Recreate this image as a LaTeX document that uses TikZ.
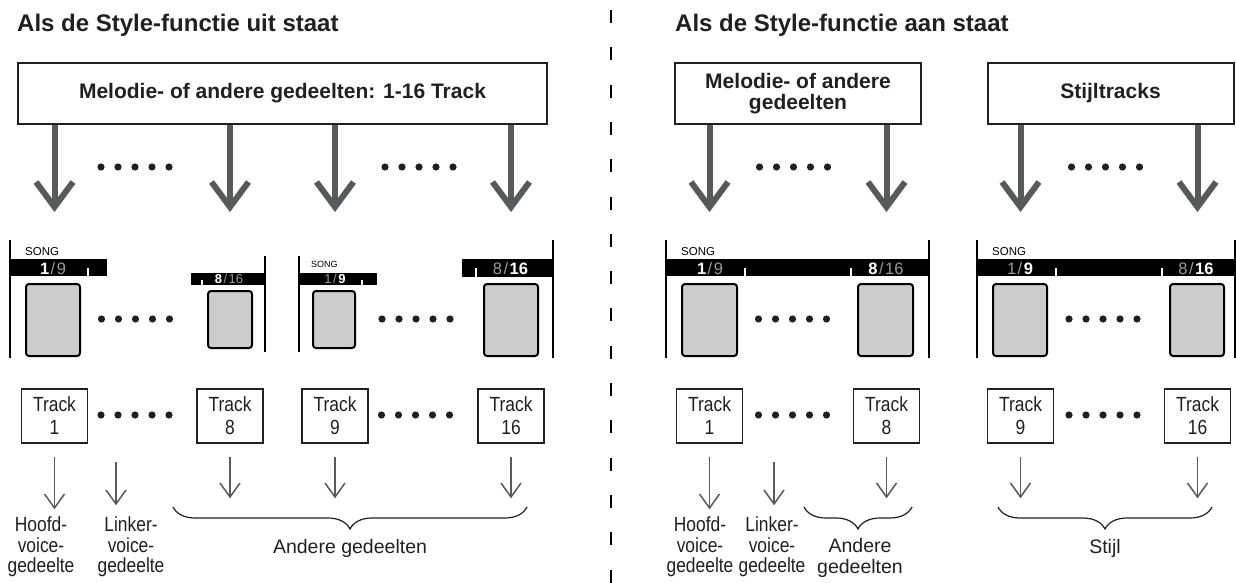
\documentclass[tikz,border=0pt]{standalone}
\usepackage{fontspec}
\setmainfont{Liberation Sans}
\newfontfamily\condfont[FakeStretch=0.85]{Liberation Sans}
\usetikzlibrary{decorations.pathreplacing,calc}
\definecolor{ink}{HTML}{231F20}
\definecolor{arrgray}{HTML}{58595B}
\definecolor{lcd}{HTML}{CCCCCC}
\definecolor{dim}{HTML}{9A9A9A}
\newcommand\hinum[1]{\textcolor{white}{\bfseries #1}}
\newcommand\lonum[1]{\textcolor{dim}{#1}}
\newcommand\slsh{\textcolor{dim}{\kern1.5pt/\kern1.5pt}}
\newcommand\bigarrow[2]{%
  \draw[bigshaft] (#1) -- (#2);
  \draw[bigshaft, line join=miter] ($(#2)+(-18.5,-25)$) -- (#2) -- ($(#2)+(18.5,-25)$);}
\newcommand\smallarrow[2]{%
  \draw[smallarr] (#1) -- (#2);
  \draw[smallarr] ($(#2)+(-10,-14)$) -- (#2) -- ($(#2)+(10,-14)$);}
\newcommand\dotrow[2]{\foreach \k in {-2,...,2}{\fill[ink] ({#1+\k*17},#2) circle[radius=3.6pt];}}
\tikzset{
  ttl/.style={inner sep=0pt, font=\fontsize{24}{24}\selectfont\bfseries, text=ink},
  topbox/.style={draw=ink, line width=2pt, minimum height=61pt, inner sep=0pt, align=center,
    font=\fontsize{21}{21}\selectfont\bfseries, text=ink},
  trackbox/.style={draw=ink, line width=1.3pt, minimum width=66pt, minimum height=54pt, inner sep=0pt,
    align=center, font=\condfont\fontsize{20.5}{23}\selectfont, text=ink},
  bigshaft/.style={draw=arrgray, line width=6pt},
  smallarr/.style={draw=arrgray, line width=1.5pt},
  lbl/.style={align=center, inner sep=0pt, font=\condfont\fontsize{20.5}{20.5}\selectfont, text=ink},
  brlbl/.style={align=center, inner sep=0pt, font=\fontsize{19.5}{21}\selectfont, text=ink},
  brc/.style={draw=ink, line width=1.2pt, decorate, decoration={brace, mirror, amplitude=22pt}},
  lcdpanel/.style={fill=lcd, draw=black, line width=2pt, rounded corners=3pt},
  frame/.style={draw=black, line width=2pt},
  tick/.style={draw=white, line width=1.5pt},
  songlbl/.style={anchor=base west, inner sep=0pt, font=\fontsize{11.5}{11.5}\selectfont, text=black},
  songsm/.style={anchor=base west, inner sep=0pt, font=\fontsize{9}{9}\selectfont, text=black},
  bartxt/.style={anchor=base, inner sep=0pt, font=\fontsize{16.5}{16.5}\selectfont},
  barsm/.style={anchor=base, inner sep=0pt, font=\fontsize{13}{13}\selectfont},
  sep/.style={draw=black, line width=2.3pt, dash pattern=on 13pt off 24.3pt},
}
\begin{document}
\begin{tikzpicture}[x=1pt,y=-1pt]
\useasboundingbox[fill=white] (0,0) rectangle (1236,583);

% titles
\node[ttl, anchor=base west] (t1) at (17,32) {Als de Style-functie uit staat};
\node[ttl, anchor=base west] (t2) at (675,32) {Als de Style-functie aan staat};

% separator
\coordinate (sepT) at (611,10);
\coordinate (sepB) at (611,583);
\draw[sep] (sepT) -- (sepB);

% top boxes
\node[topbox, minimum width=529pt] (mL) at (282.5,93.5) {Melodie- of andere gedeelten: 1-16 Track};
\node[topbox, minimum width=246pt] (mR) at (798,93.5) {Melodie- of andere\\gedeelten};
\node[topbox, minimum width=246pt] (sR) at (1110.5,93.5) {Stijltracks};

% track boxes
\node[trackbox] (k1) at (54.5,416) {Track\\1};
\node[trackbox] (k8) at (230,416) {Track\\8};
\node[trackbox] (k9) at (335,416) {Track\\9};
\node[trackbox] (k16) at (511,416) {Track\\16};
\node[trackbox] (r1) at (709.5,416) {Track\\1};
\node[trackbox] (r8) at (886.5,416) {Track\\8};
\node[trackbox] (r9) at (1020.5,416) {Track\\9};
\node[trackbox] (r16) at (1197.5,416) {Track\\16};

% big arrows
\coordinate (bt1) at (54.5,207);
\coordinate (bt2) at (230,207);
\coordinate (bt3) at (335,207);
\coordinate (bt4) at (511,207);
\coordinate (bt5) at (709.5,207);
\coordinate (bt6) at (886.5,207);
\coordinate (bt7) at (1020.5,207);
\coordinate (bt8) at (1197.5,207);
\bigarrow{mL.south -| bt1}{bt1}
\bigarrow{mL.south -| bt2}{bt2}
\bigarrow{mL.south -| bt3}{bt3}
\bigarrow{mL.south -| bt4}{bt4}
\bigarrow{mR.south -| bt5}{bt5}
\bigarrow{mR.south -| bt6}{bt6}
\bigarrow{sR.south -| bt7}{bt7}
\bigarrow{sR.south -| bt8}{bt8}

% dots rows
\dotrow{135}{167}
\dotrow{419}{167}
\dotrow{793.5}{167}
\dotrow{1105.5}{167}
\dotrow{135.5}{319}
\dotrow{416}{319}
\dotrow{792.5}{319}
\dotrow{1103}{319}
\dotrow{135}{415}
\dotrow{415.5}{415}
\dotrow{792.5}{415}
\dotrow{1103}{415}

% ---- LCD displays, left panel ----
% D1
\draw[frame] (10,240) -- (10,358);
\node[songlbl] (s1) at (25,255.5) {SONG};
\fill[black] (10,259) rectangle (107,276);
\draw[tick] (88,268) -- (88,276);
\node[bartxt] (n1) at (53,274) {\hinum{1}\slsh\lonum{9}};
\draw[lcdpanel] (26,284) rectangle (80,356);
% D2
\fill[black] (191,273) rectangle (265,285);
\draw[tick] (202,280) -- (202,285);
\node[barsm] (n2) at (229,283.5) {\hinum{8}\slsh\lonum{16}};
\draw[frame] (265,256) -- (265,352);
\draw[lcdpanel] (208,291) rectangle (252,348);
% D3
\draw[frame] (299,256) -- (299,352);
\node[songsm] (s3) at (311,267.5) {SONG};
\fill[black] (299,273) rectangle (377,285);
\draw[tick] (362,280) -- (362,285);
\node[barsm] (n3) at (335,283.5) {\lonum{1}\slsh\hinum{9}};
\draw[lcdpanel] (313,291) rectangle (355,348);
% D4
\fill[black] (462,259) rectangle (553,277);
\draw[tick] (476,268) -- (476,277);
\node[bartxt] (n4) at (510.5,274) {\lonum{8}\slsh\hinum{16}};
\draw[frame] (553,240) -- (553,358);
\draw[lcdpanel] (484,284) rectangle (538,356);

% ---- LCD displays, right panel ----
% DA
\draw[frame] (666,240) -- (666,358);
\draw[frame] (929,240) -- (929,358);
\node[songlbl] (sA) at (681,255.5) {SONG};
\fill[black] (666,259) rectangle (929,276);
\draw[tick] (745,268) -- (745,276);
\draw[tick] (851,268) -- (851,276);
\node[bartxt] (nA1) at (710,274) {\hinum{1}\slsh\lonum{9}};
\node[bartxt] (nA2) at (886,274) {\hinum{8}\slsh\lonum{16}};
\draw[lcdpanel] (682,284) rectangle (737,356);
\draw[lcdpanel] (858,284) rectangle (913,356);
% DB
\draw[frame] (977,240) -- (977,358);
\draw[frame] (1235,240) -- (1235,358);
\node[songlbl] (sB) at (992,255.5) {SONG};
\fill[black] (977,259) rectangle (1236,276);
\draw[tick] (1056,268) -- (1056,276);
\draw[tick] (1162,268) -- (1162,276);
\node[bartxt] (nB1) at (1020,274) {\lonum{1}\slsh\hinum{9}};
\node[bartxt] (nB2) at (1196,274) {\lonum{8}\slsh\hinum{16}};
\draw[lcdpanel] (993,284) rectangle (1047,356);
\draw[lcdpanel] (1170,284) rectangle (1224,356);

% small arrows
\coordinate (e1) at (54.5,508);
\coordinate (e8) at (230,497);
\coordinate (e9) at (335,497);
\coordinate (e16) at (511,497);
\coordinate (f1) at (709.5,508);
\coordinate (f8) at (886.5,497);
\coordinate (f9) at (1020.5,497);
\coordinate (f16) at (1197.5,497);
\smallarrow{$(k1.south)+(0,13)$}{e1}
\smallarrow{$(k8.south)+(0,13)$}{e8}
\smallarrow{$(k9.south)+(0,13)$}{e9}
\smallarrow{$(k16.south)+(0,13)$}{e16}
\smallarrow{$(r1.south)+(0,13)$}{f1}
\smallarrow{$(r8.south)+(0,13)$}{f8}
\smallarrow{$(r9.south)+(0,13)$}{f9}
\smallarrow{$(r16.south)+(0,13)$}{f16}
\coordinate (lk1s) at (116,462);
\coordinate (lk1e) at (116,504);
\coordinate (lk2s) at (774,462);
\coordinate (lk2e) at (774,504);
\smallarrow{lk1s}{lk1e}
\smallarrow{lk2s}{lk2e}

% labels
\node[lbl] (h1) at (41,547) {Hoofd-\\voice-\\gedeelte};
\node[lbl] (l1) at (131,547) {Linker-\\voice-\\gedeelte};
\node[lbl] (h2) at (700,547) {Hoofd-\\voice-\\gedeelte};
\node[lbl] (l2) at (772,547) {Linker-\\voice-\\gedeelte};

% braces
\coordinate (b1a) at (173,507);
\coordinate (b1b) at (527,507);
\coordinate (b2a) at (804,507);
\coordinate (b2b) at (912,507);
\coordinate (b3a) at (998,507);
\coordinate (b3b) at (1212,507);
\draw[brc] (b1a) -- (b1b);
\draw[brc] (b2a) -- (b2b);
\draw[brc] (b3a) -- (b3b);
\node[brlbl] (bl1) at (350,548) {Andere gedeelten};
\node[brlbl] (bl2) at (860,557.5) {Andere\\gedeelten};
\node[brlbl] (bl3) at (1105,548) {Stijl};
\end{tikzpicture}
\end{document}
